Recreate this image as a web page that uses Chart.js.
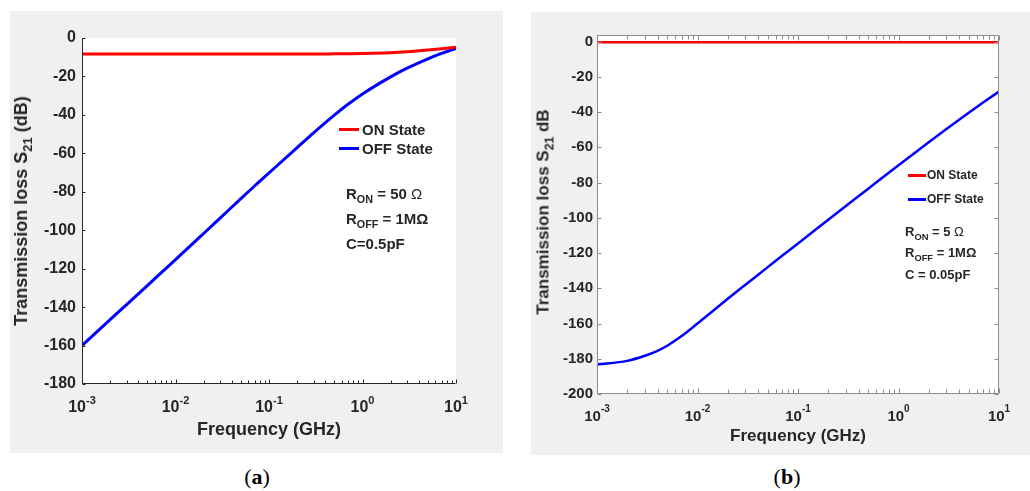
<!DOCTYPE html>
<html>
<head>
<meta charset="utf-8">
<script src="https://cdn.jsdelivr.net/npm/chart.js@4.4.1/dist/chart.umd.min.js"></script>
<style>
  body { margin: 0; width: 1030px; height: 491px; overflow: hidden; position: relative; background: #fff;
         font-family: "Liberation Sans", Arial, sans-serif; }
  canvas { position: absolute; }
  .t { position: absolute; font-weight: bold; color: #262626; white-space: nowrap; line-height: 1; transform: translateY(-50%); }
  .sub { font-size: 0.72em; position: relative; top: 0.38em; }
  .ytitle { position: absolute; font-weight: bold; color: #262626; white-space: nowrap; line-height: 1;
            transform: translate(-50%, -50%) rotate(-90deg); }
  .key { position: absolute; }
  .cap { position: absolute; font-family: "Liberation Serif", "DejaVu Serif", serif; font-size: 22px; color: #000;
         transform: translate(-50%, -50%); line-height: 1; }
</style>
</head>
<body>
<canvas id="chartA" width="493" height="442" style="left:10px;top:11px"></canvas>
<canvas id="chartB" width="499" height="443" style="left:531px;top:12px"></canvas>

<!-- panel (a) texts -->
<div class="ytitle" style="left:21px;top:211px;font-size:18px">Transmission loss S<span class="sub">21</span> (dB)</div>
<div class="key" style="left:339px;top:127.5px;width:20px;height:3px;background:#ff0000"></div>
<div class="key" style="left:339px;top:146.5px;width:20px;height:3px;background:#0000ff"></div>
<div class="t" style="left:362px;top:129px;font-size:15px">ON State</div>
<div class="t" style="left:362px;top:148px;font-size:15px">OFF State</div>
<div class="t" style="left:346px;top:193px;font-size:15px">R<span class="sub">ON</span> = 50 <span style="font-weight:normal">Ω</span></div>
<div class="t" style="left:346px;top:218px;font-size:15px">R<span class="sub">OFF</span> = 1MΩ</div>
<div class="t" style="left:346px;top:243px;font-size:15px">C=0.5pF</div>
<div class="cap" style="left:257px;top:477px">(<b>a</b>)</div>

<!-- panel (b) texts -->
<div class="ytitle" style="left:543px;top:212px;font-size:17px">Transmission loss S<span class="sub">21</span> dB</div>
<div class="key" style="left:908px;top:174px;width:18px;height:2.5px;background:#ff0000"></div>
<div class="key" style="left:908px;top:198px;width:18px;height:2.5px;background:#0000ff"></div>
<div class="t" style="left:927px;top:175px;font-size:12px">ON State</div>
<div class="t" style="left:927px;top:199px;font-size:12px">OFF State</div>
<div class="t" style="left:905px;top:232px;font-size:13px">R<span class="sub">ON</span> = 5 <span style="font-weight:normal">Ω</span></div>
<div class="t" style="left:905px;top:253px;font-size:13px">R<span class="sub">OFF</span> = 1MΩ</div>
<div class="t" style="left:905px;top:274px;font-size:13px">C = 0.05pF</div>
<div class="cap" style="left:787px;top:477px">(<b>b</b>)</div>

<script>
// values (frequency in GHz, S21 in dB)
const freqA = [0.001, 0.002, 0.003, 0.005, 0.007, 0.01, 0.02, 0.03, 0.05, 0.07, 0.1, 0.2, 0.3, 0.5, 0.7, 1, 2, 3, 5, 7, 10];
const onA   = [-8.3, -8.3, -8.3, -8.3, -8.3, -8.3, -8.3, -8.3, -8.3, -8.3, -8.3, -8.3, -8.3, -8.25, -8.2, -8.1, -7.7, -7.2, -6.3, -5.6, -4.8];
const offA  = [-160, -146.5, -138.7, -128.8, -122.2, -115.3, -101.7, -93.7, -83.6, -77, -70.2, -57, -49.3, -40.1, -34.5, -29.1, -20.2, -15.7, -10.8, -8, -5.4];

const freqB = [0.001, 0.002, 0.003, 0.004, 0.005, 0.007, 0.01, 0.02, 0.03, 0.05, 0.07, 0.1, 0.2, 0.3, 0.5, 0.7, 1, 2, 3, 5, 7, 10];
const onB   = [-0.4, -0.4, -0.4, -0.4, -0.4, -0.4, -0.4, -0.4, -0.4, -0.4, -0.4, -0.4, -0.4, -0.4, -0.4, -0.4, -0.4, -0.4, -0.4, -0.4, -0.4, -0.4];
const offB  = [-183.3, -181.2, -178.3, -175.5, -172.6, -167, -160, -146, -138, -128, -121.4, -114.6, -101.1, -93.3, -83.5, -77, -70.2, -57.1, -49.6, -40.4, -34.5, -28.4];

const yTicksA = [0, -20, -40, -60, -80, -100, -120, -140, -160, -180];
const yTicksB = [0, -20, -40, -60, -80, -100, -120, -140, -160, -180, -200];
const xTicks = [0.001, 0.01, 0.1, 1, 10];
const xExp = ['-3', '-2', '-1', '0', '1'];

const FONT = '"Liberation Sans", Arial, sans-serif';

function pts(xs, ys) {
  return xs.map((x, i) => ({ x: x, y: ys[i] }));
}

// minor log ticks 2..9 in each decade
function minorTicks() {
  let out = [];
  for (let d = 0; d < xTicks.length - 1; d++) {
    for (let k = 2; k <= 9; k++) out.push(xTicks[d] * k);
  }
  return out;
}

function panelPlugin(p) {
  return {
    id: 'panel',
    beforeDraw(chart) {
      const ctx = chart.ctx, a = chart.chartArea;
      ctx.save();
      ctx.fillStyle = '#f0f0f0';
      ctx.fillRect(0, 0, chart.width, chart.height);
      ctx.fillStyle = '#ffffff';
      ctx.fillRect(a.left, a.top, a.right - a.left, a.bottom - a.top);
      ctx.restore();
    },
    afterDraw(chart) {
      const ctx = chart.ctx, a = chart.chartArea;
      const xs = chart.scales.x, ys = chart.scales.y;
      const L = Math.round(a.left) + 0.5, R = Math.round(a.right) - 0.5;
      const T = Math.round(a.top) + 0.5, B = Math.round(a.bottom) - 0.5;
      ctx.save();
      ctx.strokeStyle = p.axisColor;
      ctx.lineWidth = 1;
      ctx.beginPath();
      // axis lines
      ctx.moveTo(L, T); ctx.lineTo(L, B); ctx.lineTo(R, B);
      if (p.box) { ctx.lineTo(R, T); ctx.lineTo(L, T); }
      // y ticks
      ys.ticks.forEach(t => {
        const y = Math.round(ys.getPixelForValue(t.value)) + 0.5;
        ctx.moveTo(L, y); ctx.lineTo(L + p.tick, y);
        if (p.box) { ctx.moveTo(R, y); ctx.lineTo(R - p.tick, y); }
      });
      // x ticks
      const drawX = (v, len) => {
        const x = Math.round(xs.getPixelForValue(v)) + 0.5;
        ctx.moveTo(x, B); ctx.lineTo(x, B - len);
        if (p.box) { ctx.moveTo(x, T); ctx.lineTo(x, T + len); }
      };
      xTicks.forEach(v => drawX(v, p.tick + 1));
      minorTicks().forEach(v => drawX(v, p.tick));
      ctx.stroke();

      // x tick labels 10^n
      ctx.fillStyle = '#262626';
      ctx.textBaseline = 'alphabetic';
      ctx.textAlign = 'left';
      const base = 'bold ' + p.tickSize + 'px ' + FONT;
      const sup = 'bold ' + p.expSize + 'px ' + FONT;
      xTicks.forEach((v, i) => {
        const x = xs.getPixelForValue(v);
        ctx.font = base;
        const w1 = ctx.measureText('10').width;
        ctx.font = sup;
        const w2 = ctx.measureText(xExp[i]).width;
        const x0 = x - (w1 + w2) / 2;
        const yb = a.bottom + p.labelDrop;
        ctx.font = base;
        ctx.fillText('10', x0, yb);
        ctx.font = sup;
        ctx.fillText(xExp[i], x0 + w1, yb - p.expRaise);
      });
      ctx.restore();
    }
  };
}

function makeChart(id, p) {
  return new Chart(document.getElementById(id), {
    type: 'line',
    data: {
      datasets: [
        { label: 'ON State', data: pts(p.freq, p.on), borderColor: '#ff0000', borderWidth: p.lineWidth,
          pointRadius: 0, cubicInterpolationMode: 'monotone', fill: false },
        { label: 'OFF State', data: pts(p.freq, p.off), borderColor: '#0000ff', borderWidth: p.lineWidth,
          pointRadius: 0, cubicInterpolationMode: 'monotone', fill: false }
      ]
    },
    options: {
      responsive: false,
      animation: false,
      layout: { padding: { left: 0, top: p.padTop, right: p.padRight, bottom: 0 } },
      plugins: { legend: { display: false }, tooltip: { enabled: false } },
      scales: {
        x: {
          type: 'logarithmic', min: 0.001, max: 10,
          grid: { display: false, drawTicks: false },
          border: { display: false },
          ticks: { display: false },
          title: { display: true, text: 'Frequency (GHz)', color: '#262626',
                   font: { family: FONT, size: p.titleSize, weight: 'bold' }, padding: { top: 0, bottom: p.titlePad } },
          afterFit: s => { s.height = p.xHeight; }
        },
        y: {
          type: 'linear', min: p.yMin, max: p.yMax,
          grid: { display: false, drawTicks: false },
          border: { display: false },
          afterBuildTicks: s => { s.ticks = p.yTicks.map(v => ({ value: v })); },
          ticks: { color: '#262626', padding: p.yPad, font: { family: FONT, size: p.tickSize, weight: 'bold' },
                   callback: v => String(v) },
          afterFit: s => { s.width = p.yWidth; }
        }
      }
    },
    plugins: [panelPlugin(p)]
  });
}

makeChart('chartA', {
  freq: freqA, on: onA, off: offA, yTicks: yTicksA, yMin: -180, yMax: 0,
  padTop: 27, padRight: 47, yWidth: 72, xHeight: 69, yPad: 6,
  tickSize: 16, expSize: 11, expRaise: 8, labelDrop: 28, titleSize: 18, titlePad: 12,
  lineWidth: 3, axisColor: '#262626', box: false, tick: 3
});

makeChart('chartB', {
  freq: freqB, on: onB, off: offB, yTicks: yTicksB, yMin: -200, yMax: 3.7,
  padTop: 23, padRight: 31, yWidth: 66, xHeight: 61, yPad: 4,
  tickSize: 15, expSize: 10, expRaise: 9, labelDrop: 27, titleSize: 17, titlePad: 8,
  lineWidth: 2.5, axisColor: '#8c8c8c', box: true, tick: 4
});
</script>
</body>
</html>
